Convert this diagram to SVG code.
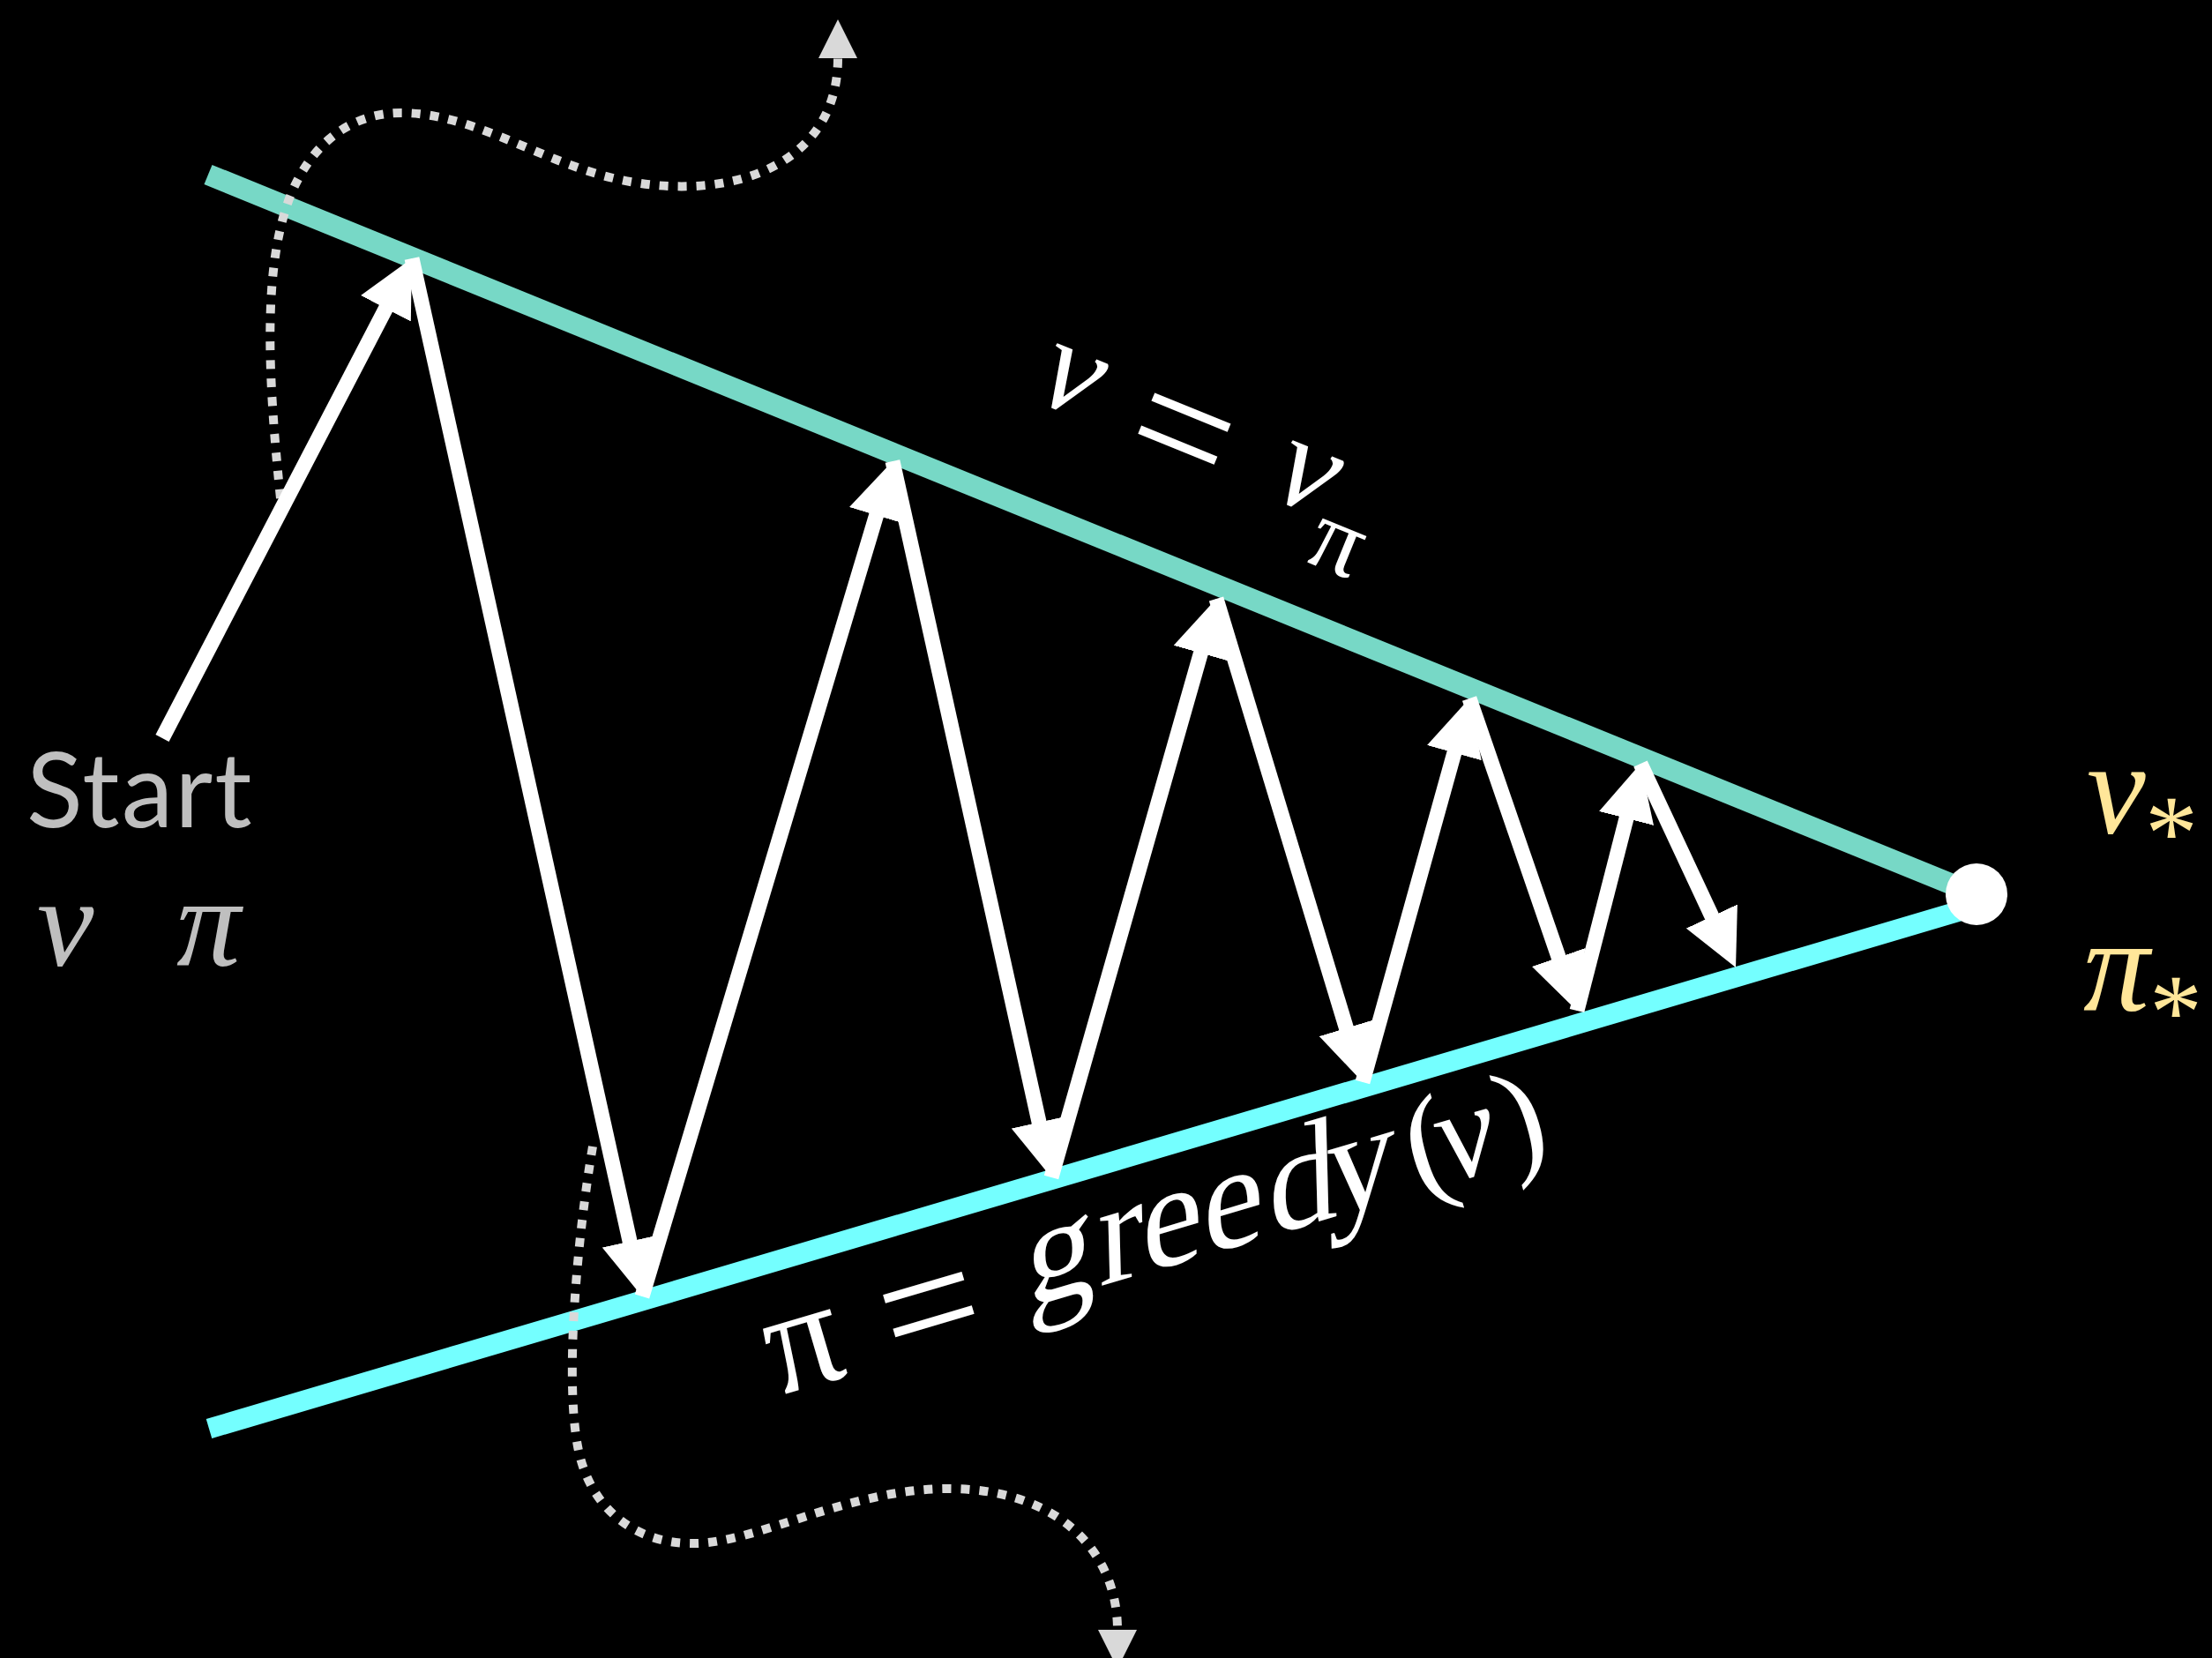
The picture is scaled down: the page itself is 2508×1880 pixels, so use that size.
<svg xmlns="http://www.w3.org/2000/svg" width="2508" height="1880" viewBox="0 0 2508 1880">
<style>
.arr{fill:none;stroke:#FFFFFF;stroke-width:17;stroke-linecap:butt;marker-end:url(#ah)}
.dot{fill:none;stroke:#D9D9D9;stroke-width:10;stroke-dasharray:10 11;marker-end:url(#dh)}
.m{font-family:"Liberation Serif","Times New Roman",serif;font-style:italic}
.up{font-style:normal}
.w{fill:#FFFFFF}
.g{fill:#BFBFBF}
.y{fill:#FFE699}
</style>
<defs>
<marker id="ah" markerUnits="userSpaceOnUse" viewBox="0 0 64 64" markerWidth="64" markerHeight="64" refX="24" refY="32" orient="auto"><path d="M0,0 L64,32 L0,64 Z" fill="#FFFFFF"/></marker>
<marker id="dh" markerUnits="userSpaceOnUse" viewBox="0 0 44 44" markerWidth="44" markerHeight="44" refX="0" refY="22" orient="auto"><path d="M0,0 L44,22 L0,44 Z" fill="#D9D9D9"/></marker>
</defs>
<rect width="2508" height="1880" fill="#000000"/>
<g id="value-line"><line x1="236" y1="198" x2="2241" y2="1014" stroke="#77D8C6" stroke-width="24"/></g>
<g id="policy-line"><line x1="237" y1="1620" x2="2232" y2="1030" stroke="#74FFFF" stroke-width="23"/></g>
<g id="connectors">
<path class="dot" d="M318,565 C303,420 298,300 330,220 C355,160 400,128 455,128 C530,128 600,175 680,198 C740,215 800,216 850,200 C905,182 950,140 950,66"/>
<path class="dot" d="M672,1300 C655,1400 640,1560 655,1640 C668,1710 720,1752 790,1750 C860,1748 960,1690 1070,1688 C1200,1686 1267,1760 1267,1848"/>
<line class="arr" x1="184" y1="837" x2="448.5" y2="328.5"/>
<line class="arr" x1="467" y1="293" x2="719.3" y2="1431"/>
<line class="arr" x1="728" y1="1470" x2="1000.5" y2="561.3"/>
<line class="arr" x1="1012" y1="523" x2="1183.3" y2="1296"/>
<line class="arr" x1="1192" y1="1335" x2="1368" y2="717.5"/>
<line class="arr" x1="1379" y1="679" x2="1533.4" y2="1188.7"/>
<line class="arr" x1="1545" y1="1227" x2="1655.3" y2="830.5"/>
<line class="arr" x1="1666" y1="792" x2="1775" y2="1108.2"/>
<line class="arr" x1="1788" y1="1146" x2="1850" y2="904.7"/>
<line class="arr" x1="1860" y1="866" x2="1951.1" y2="1060.8"/>
</g>
<g id="optimum"><circle cx="2241" cy="1014" r="35" fill="#FFFFFF"/></g>
<g id="start-label">
<text x="30" y="938" font-family="Lato, 'Open Sans', sans-serif" font-size="118" letter-spacing="2" class="g">Start</text>
<text x="42" y="1095" font-size="145" class="m g">v</text>
<text x="200" y="1095" font-size="145" class="m g">π</text>
</g>
<g id="optimum-label">
<text x="2366" y="945" font-size="150" class="m y">v</text>
<text x="2462" y="985" font-size="120" text-anchor="middle" class="m up y">*</text>
<text x="2362" y="1146" font-size="150" class="m y">π</text>
<text x="2467" y="1188" font-size="120" text-anchor="middle" class="m up y">*</text>
</g>
<g id="value-label" transform="translate(1214,433) rotate(22.2)" text-anchor="middle">
<text class="m w" font-size="150"><tspan x="0" y="34">v</tspan><tspan x="288.8" y="35">v</tspan></text>
<text class="m up w" font-size="200" x="139.3" y="67">=</text>
<text class="m up w" font-size="115" x="349.2" y="88">π</text>
</g>
<g id="policy-label" transform="translate(900,1560) rotate(-16.47)" text-anchor="middle">
<text class="m up w" font-size="170" x="20.5" y="17">π</text>
<text class="m up w" font-size="200" x="169.4" y="32">=</text>
<g transform="skewX(-15)">
<text class="m up w" font-size="162"><tspan x="316" y="1">g</tspan><tspan x="388" y="1">r</tspan><tspan x="449" y="1">e</tspan><tspan x="521" y="1">e</tspan><tspan x="603" y="1">d</tspan><tspan x="672" y="1">y</tspan></text>
</g>
<text class="m w" font-size="150"><tspan x="762.8" y="1" class="up">(</tspan><tspan x="807.3" y="1">v</tspan><tspan x="873" y="1" class="up">)</tspan></text>
</g>
</svg>
